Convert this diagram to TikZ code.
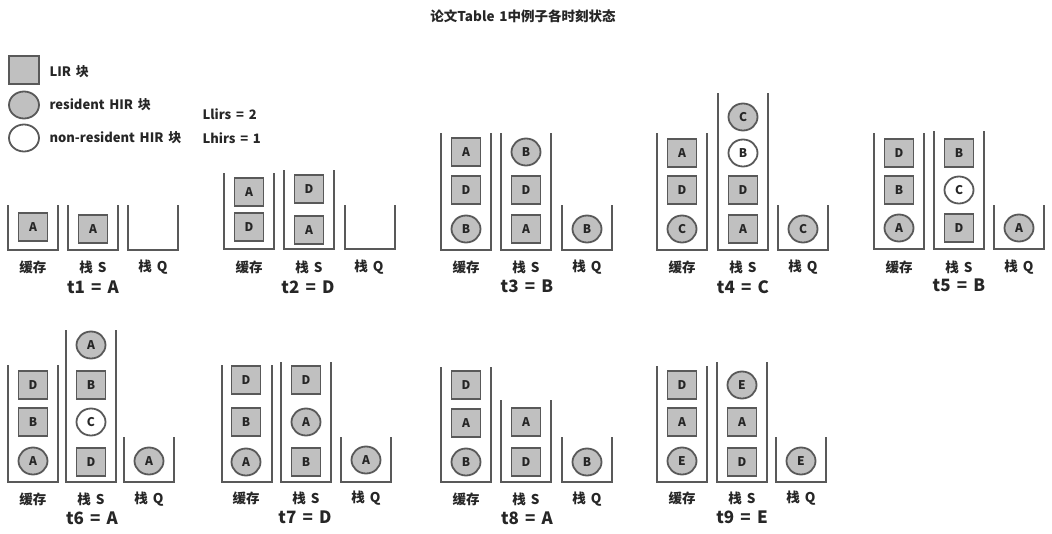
\documentclass[tikz,border=0pt]{standalone}
\usepackage{fontspec}
\setmainfont{Noto Sans CJK SC}[WordSpace=1.6]
\usetikzlibrary{shapes.geometric}
\definecolor{edge}{HTML}{595959}
\definecolor{fillg}{HTML}{C0C0C0}
\definecolor{txt}{HTML}{262626}
\tikzset{
 blk/.style={draw=edge, line width=1.8pt, fill=fillg, text=txt, font=\bfseries\fontsize{12}{12}\selectfont, inner sep=0pt},
 sq/.style={blk, rectangle, minimum width=29pt, minimum height=28pt},
 cr/.style={blk, ellipse, minimum width=29pt, minimum height=27pt},
 wc/.style={cr, fill=white},
 cont/.style={draw=edge, line width=1.6pt},
 lbl/.style={text=txt, font=\bfseries\fontsize{13.5}{13.5}\selectfont},
 leg/.style={text=txt, font=\bfseries\fontsize{13}{13}\selectfont, anchor=west},
 tl/.style={text=txt, font=\bfseries\fontsize{17}{17}\selectfont},
 ttl/.style={text=txt, font=\bfseries\fontsize{13.5}{13.5}\selectfont},
}
\newcommand\bucket[3]{\draw[cont] (#1,#2) -- (#1,#3) -- ({#1+50},#3) -- ({#1+50},#2);}
\newcommand\labs[5]{%
 \node[lbl] (#1a) at (#2,#5) {缓存};
 \node[lbl] (#1b) at (#3,#5) {栈 S};
 \node[lbl] (#1c) at (#4,#5) {栈 Q};}
\begin{document}
\begin{tikzpicture}[x=1pt,y=-1pt]
\useasboundingbox (0,0) rectangle (1052,533);
% title
\node[ttl] (title) at (523,16) {论文Table 1中例子各时刻状态};
% legend
\node[sq, minimum width=30pt, minimum height=28pt] (lg1) at (24,70) {};
\node[cr, minimum width=30pt, minimum height=27pt] (lg2) at (24,105) {};
\node[wc, minimum width=30pt, minimum height=27pt] (lg3) at (24,138) {};
\node[leg] (lt1) at (46,72) {LIR 块};
\node[leg] (lt2) at (46,105) {resident HIR 块};
\node[leg] (lt3) at (46,138) {non-resident HIR 块};
\node[leg] (ll) at (199,114) {Llirs = 2};
\node[leg] (lh) at (199,138) {Lhirs = 1};

% t1
\bucket{8}{205}{250}\bucket{68}{205}{250}\bucket{128}{205}{250}
\node[sq] (t1c1) at (33,227) {A};
\node[sq] (t1s1) at (93,229) {A};
\labs{t1}{33}{93}{153}{267}
\node[tl] (t1) at (93,287) {t1 = A};

% t2
\bucket{224}{173}{249}\bucket{284}{170}{249}\bucket{345}{205}{249}
\node[sq] (t2c1) at (249,192) {A};
\node[sq] (t2c2) at (249,227) {D};
\node[sq] (t2s1) at (309,189) {D};
\node[sq] (t2s2) at (309,230) {A};
\labs{t2}{249}{309}{369}{267}
\node[tl] (t2) at (308,287) {t2 = D};

% t3
\bucket{441}{133}{250}\bucket{501}{133}{250}\bucket{562}{205}{250}
\node[sq] (t3c1) at (466,152) {A};
\node[sq] (t3c2) at (466,190) {D};
\node[cr] (t3c3) at (466,229) {B};
\node[cr] (t3s1) at (526,152) {B};
\node[sq] (t3s2) at (526,190) {D};
\node[sq] (t3s3) at (526,229) {A};
\node[cr] (t3q1) at (587,229) {B};
\labs{t3}{466}{526}{587}{267}
\node[tl] (t3) at (527,286) {t3 = B};

% t4
\bucket{657}{133}{250}\bucket{718}{93}{250}\bucket{778}{205}{250}
\node[sq] (t4c1) at (682,153) {A};
\node[sq] (t4c2) at (682,190) {D};
\node[cr] (t4c3) at (682,229) {C};
\node[cr] (t4s1) at (743,117) {C};
\node[wc] (t4s2) at (743,153) {B};
\node[sq] (t4s3) at (743,190) {D};
\node[sq] (t4s4) at (743,229) {A};
\node[cr] (t4q1) at (803,229) {C};
\labs{t4}{682}{743}{803}{267}
\node[tl] (t4) at (743,287) {t4 = C};

% t5
\bucket{874}{133}{249}\bucket{934}{131}{249}\bucket{994}{205}{249}
\node[sq] (t5c1) at (899,153) {D};
\node[sq] (t5c2) at (899,190) {B};
\node[cr] (t5c3) at (899,228) {A};
\node[sq] (t5s1) at (959,153) {B};
\node[wc] (t5s2) at (959,190) {C};
\node[sq] (t5s3) at (959,228) {D};
\node[cr] (t5q1) at (1019,228) {A};
\labs{t5}{899}{959}{1019}{267}
\node[tl] (t5) at (959,285) {t5 = B};

% t6
\bucket{8}{365}{482}\bucket{66}{330}{482}\bucket{124}{437}{482}
\node[sq] (t6c1) at (33,385) {D};
\node[sq] (t6c2) at (33,422) {B};
\node[cr] (t6c3) at (33,461) {A};
\node[cr] (t6s1) at (91,345) {A};
\node[sq] (t6s2) at (91,385) {B};
\node[wc] (t6s3) at (91,422) {C};
\node[sq] (t6s4) at (91,462) {D};
\node[cr] (t6q1) at (149,461) {A};
\labs{t6}{33}{91}{149}{499}
\node[tl] (t6) at (92,518) {t6 = A};

% t7
\bucket{222}{365}{482}\bucket{281}{362}{482}\bucket{341}{437}{482}
\node[sq] (t7c1) at (246,380) {D};
\node[sq] (t7c2) at (246,422) {B};
\node[cr] (t7c3) at (246,462) {A};
\node[sq] (t7s1) at (306,380) {D};
\node[cr] (t7s2) at (306,422) {A};
\node[sq] (t7s3) at (306,462) {B};
\node[cr] (t7q1) at (366,460) {A};
\labs{t7}{246}{306}{366}{498}
\node[tl] (t7) at (305,517) {t7 = D};

% t8
\bucket{441}{367}{482}\bucket{501}{400}{482}\bucket{562}{437}{482}
\node[sq] (t8c1) at (466,385) {D};
\node[sq] (t8c2) at (466,423) {A};
\node[cr] (t8c3) at (466,462) {B};
\node[sq] (t8s1) at (526,422) {A};
\node[sq] (t8s2) at (526,462) {D};
\node[cr] (t8q1) at (587,462) {B};
\labs{t8}{466}{526}{587}{499}
\node[tl] (t8) at (527,518) {t8 = A};

% t9
\bucket{657}{366}{482}\bucket{717}{362}{482}\bucket{776}{437}{482}
\node[sq] (t9c1) at (682,385) {D};
\node[sq] (t9c2) at (682,422) {A};
\node[cr] (t9c3) at (682,461) {E};
\node[cr] (t9s1) at (742,385) {E};
\node[sq] (t9s2) at (742,422) {A};
\node[sq] (t9s3) at (742,462) {D};
\node[cr] (t9q1) at (801,461) {E};
\labs{t9}{682}{742}{801}{498}
\node[tl] (t9) at (742,517) {t9 = E};
\end{tikzpicture}
\end{document}
